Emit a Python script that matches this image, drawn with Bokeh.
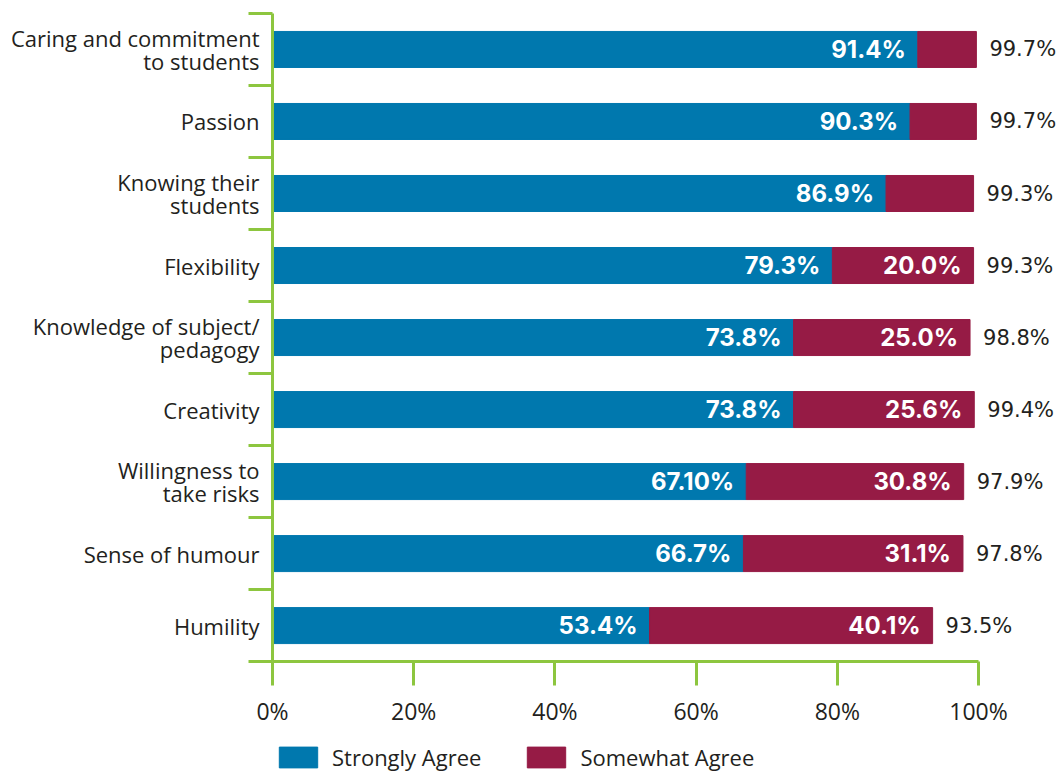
from bokeh.plotting import figure
from bokeh.models import (ColumnDataSource, Range1d, FixedTicker,
                          LabelSet, Legend, LegendItem, PrintfTickFormatter)
from bokeh.core.properties import value
from bokeh.embed import file_html
from bokeh.resources import INLINE

categories = ["Caring and commitment\nto students", "Passion", "Knowing their\nstudents",
              "Flexibility", "Knowledge of subject/\npedagogy", "Creativity",
              "Willingness to\ntake risks", "Sense of humour", "Humility"]
strongly_agree = [91.4, 90.3, 86.9, 79.3, 73.8, 73.8, 67.1, 66.7, 53.4]
somewhat_agree = [8.3, 9.4, 12.4, 20.0, 25.0, 25.6, 30.8, 31.1, 40.1]
strong_labels = ["91.4%", "90.3%", "86.9%", "79.3%", "73.8%", "73.8%", "67.10%", "66.7%", "53.4%"]
somewhat_labels = ["", "", "", "20.0%", "25.0%", "25.6%", "30.8%", "31.1%", "40.1%"]
total_labels = ["99.7%", "99.7%", "99.3%", "99.3%", "98.8%", "99.4%", "97.9%", "97.8%", "93.5%"]
x_ticks = [0, 20, 40, 60, 80, 100]
series_names = ["Strongly Agree", "Somewhat Agree"]

BLUE = "#0078AE"
MAROON = "#961B45"
GREEN = "#8DC63F"
TEXT = "#231F20"
FONT = "Open Sans"
BOLD_FONT = "Inter"
NUM_FONT = "DejaVu Sans"

n = len(categories)
ypos = [n - 1 - i for i in range(n)]  # row centres, first category on top
bounds = [k - 0.5 for k in range(n + 1)]  # row boundaries
totals = [a + b for a, b in zip(strongly_agree, somewhat_agree)]
source = ColumnDataSource(dict(y=ypos, strong=strongly_agree, somewhat=somewhat_agree,
                               total=totals, slab=strong_labels, wlab=somewhat_labels,
                               tlab=total_labels))

# the frame fills the canvas; axes are pinned inside it with fixed_location
p = figure(width=1058, height=772, output_backend="svg", toolbar_location=None,
           x_range=Range1d(-38.53, 111.33), y_range=Range1d(-2.04, 8.68),
           min_border=0, outline_line_color=None)
p.xgrid.visible = False
p.ygrid.visible = False

rs = p.hbar_stack(["strong", "somewhat"], y="y", height=0.5, color=[BLUE, MAROON], source=source)

# x axis
xa = p.xaxis[0]
xa.fixed_location = bounds[0]
xa.bounds = (x_ticks[0], x_ticks[-1])
xa.ticker = FixedTicker(ticks=x_ticks)
xa.formatter = PrintfTickFormatter(format="%d%%")
xa.axis_line_color = GREEN
xa.axis_line_width = 3
xa.major_tick_line_color = GREEN
xa.major_tick_line_width = 3
xa.major_tick_out = 24
xa.major_tick_in = 0
xa.minor_tick_line_color = None
xa.minor_tick_out = 0
xa.major_label_standoff = 9
xa.major_label_text_font = FONT
xa.major_label_text_font_size = "23px"
xa.major_label_text_color = TEXT

# y axis: labels at row centres, green ticks at row boundaries
ya = p.yaxis[0]
ya.fixed_location = 0
ya.bounds = (bounds[0], bounds[-1])
ya.ticker = FixedTicker(ticks=ypos, minor_ticks=bounds)
ya.major_label_overrides = {y: c for y, c in zip(ypos, categories)}
ya.axis_line_color = GREEN
ya.axis_line_width = 3
ya.major_tick_line_color = None
ya.major_tick_out = 0
ya.major_tick_in = 0
ya.minor_tick_line_color = GREEN
ya.minor_tick_line_width = 3
ya.minor_tick_out = 24
ya.minor_tick_in = 0
ya.major_label_standoff = -11
ya.major_label_text_font = FONT
ya.major_label_text_font_size = "22px"
ya.major_label_text_color = TEXT
ya.major_label_text_line_height = 0.77

s_labels = LabelSet(x="strong", y="y", text="slab", source=source, x_offset=-12,
                    text_align="right", text_baseline="middle", text_font=value(BOLD_FONT),
                    text_font_style="bold", text_font_size="24px", text_color="white")
p.add_layout(s_labels)

w_labels = LabelSet(x="total", y="y", text="wlab", source=source, x_offset=-12,
                    text_align="right", text_baseline="middle", text_font=value(BOLD_FONT),
                    text_font_style="bold", text_font_size="24px", text_color="white")
p.add_layout(w_labels)

t_labels = LabelSet(x="total", y="y", text="tlab", source=source, x_offset=13,
                    text_align="left", text_baseline="middle", text_font=value(NUM_FONT),
                    text_font_size="21px", text_color=TEXT)
p.add_layout(t_labels)

legend = Legend(items=[LegendItem(label=series_names[0], renderers=[rs[0]]),
                       LegendItem(label=series_names[1], renderers=[rs[1]])],
                orientation="horizontal", location=(274, 0), glyph_width=48, glyph_height=26,
                label_height=26, label_standoff=10, spacing=41, padding=0, margin=0,
                border_line_color=None, background_fill_alpha=0,
                label_text_font=FONT, label_text_font_size="22px", label_text_color=TEXT)
p.add_layout(legend, "center")

open("out.html", "w").write(file_html(p, INLINE))
